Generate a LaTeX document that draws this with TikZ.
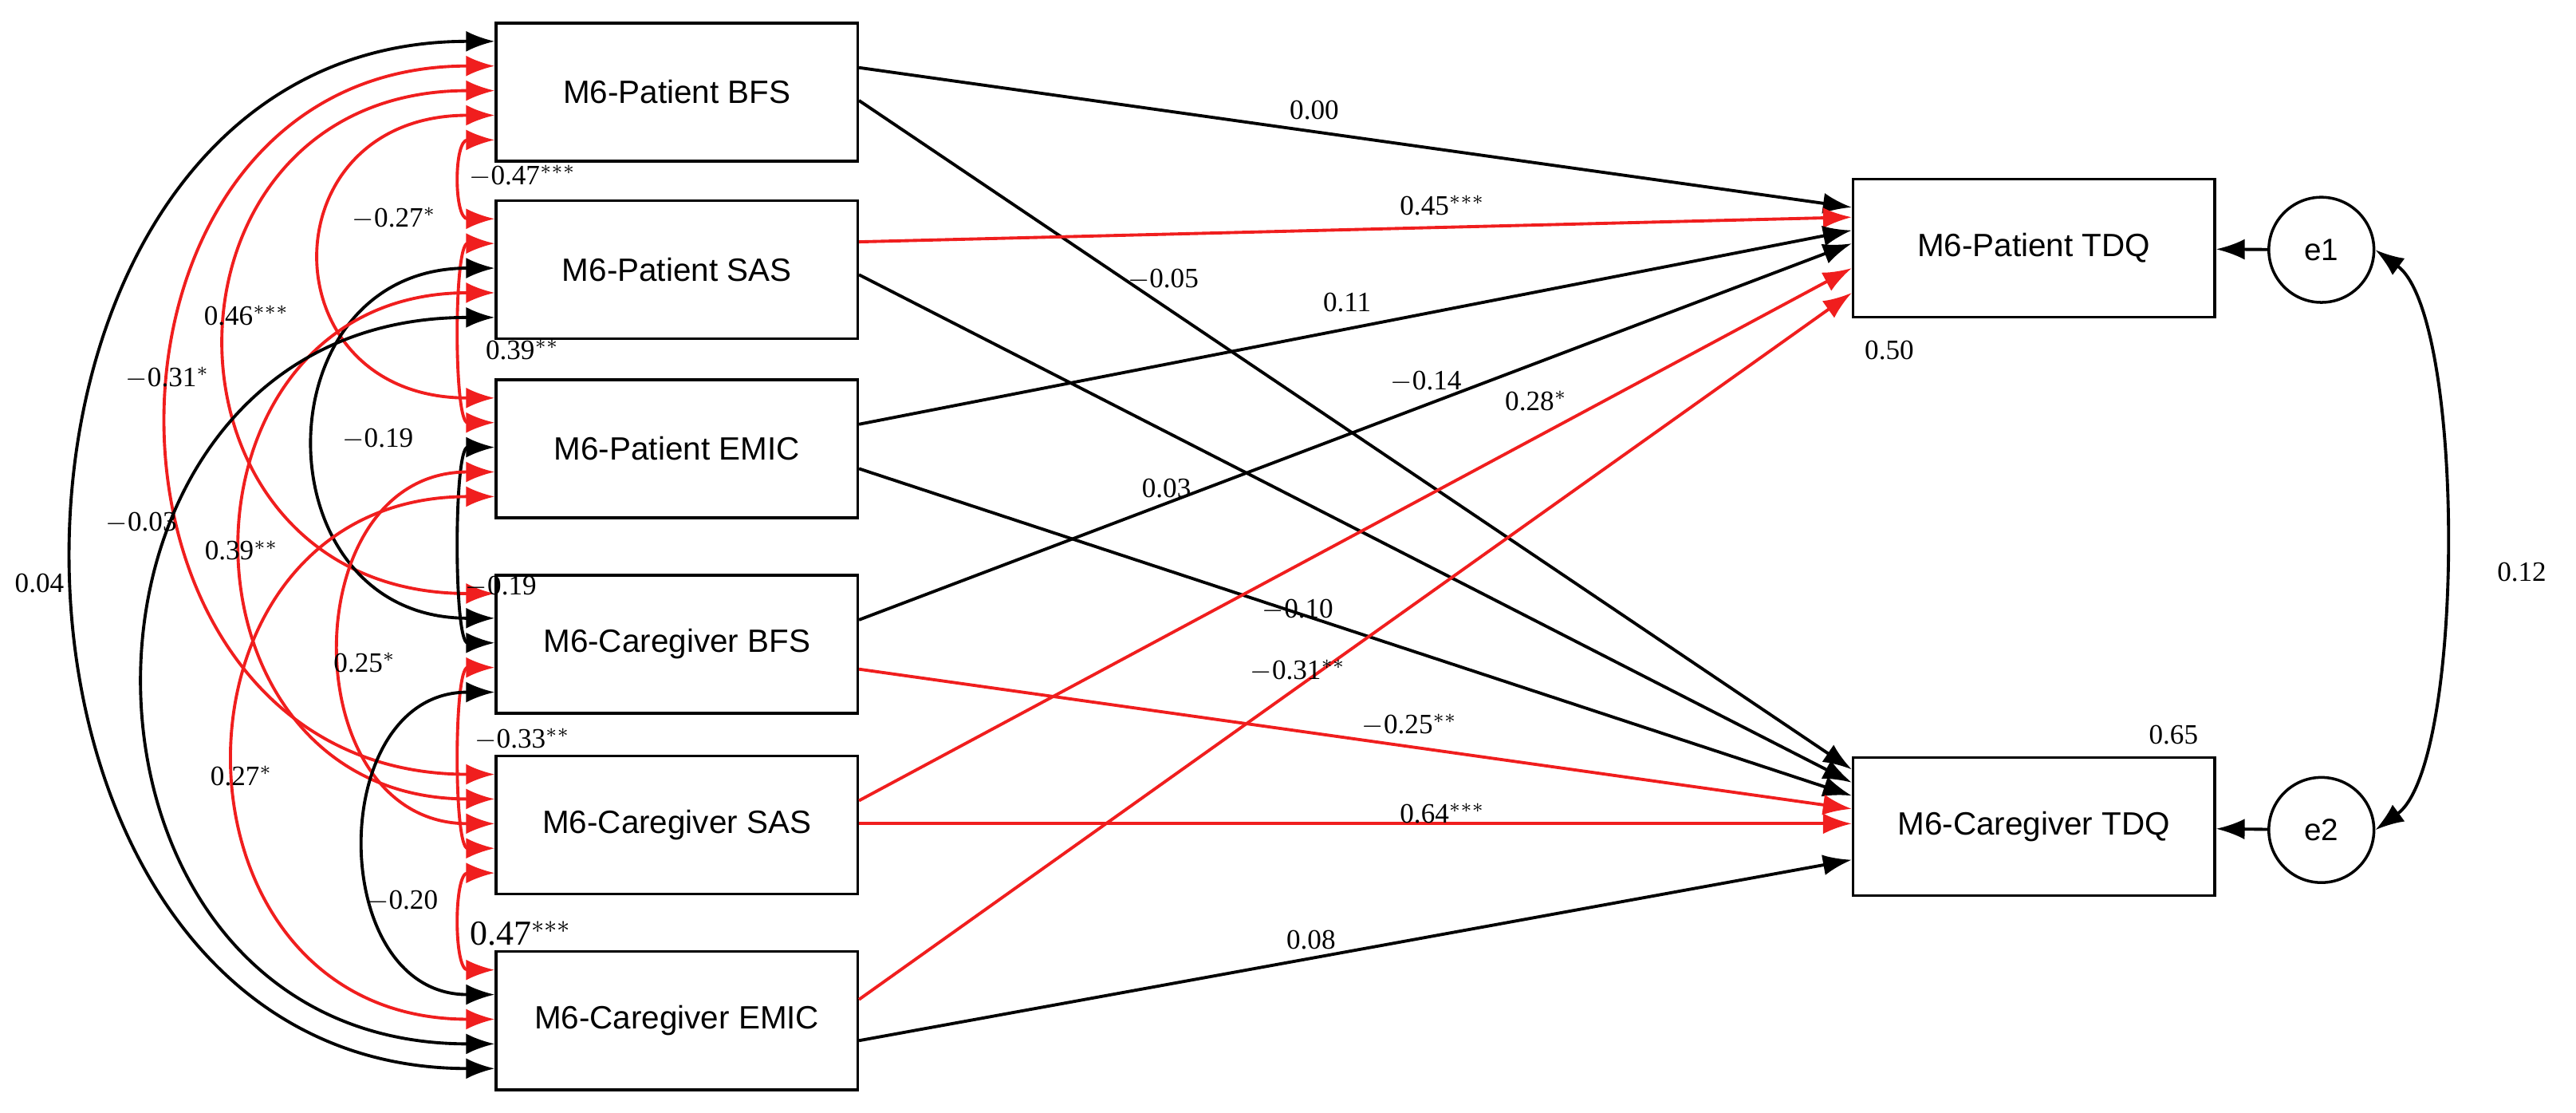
\documentclass[tikz,border=0pt]{standalone}
\usepackage{fontspec}
\setmainfont{Liberation Serif}
\newfontfamily\boxfont{Liberation Sans}
\usetikzlibrary{arrows.meta,calc}
\definecolor{sred}{RGB}{240,30,30}
\begin{document}
\begin{tikzpicture}[x=0.0206cm,y=-0.0206cm,
  box/.style={draw,line width=1pt,minimum width=220*0.0206cm,minimum height=84*0.0206cm,font=\boxfont\fontsize{11.5}{13}\selectfont,inner sep=0pt},
  tip/.style={-{Latex[length=0.36cm,width=0.26cm]}},
  tips/.style={{Latex[length=0.36cm,width=0.26cm]}-{Latex[length=0.36cm,width=0.26cm]}},
  pb/.style={tip,line width=1.1pt,black},
  pr/.style={tip,line width=1.1pt,sred},
  cb/.style={tips,line width=1.1pt,black},
  cr/.style={tips,line width=1.1pt,sred},
  lab/.style={font=\fontsize{10}{12}\selectfont,inner sep=0pt}]
\useasboundingbox (0,0) rectangle (1568,677);
\node[box] (b1) at (412,56) {M6-Patient BFS};
\node[box] (b2) at (412,164) {M6-Patient SAS};
\node[box] (b3) at (412,273) {M6-Patient EMIC};
\node[box] (b4) at (412,392) {M6-Caregiver BFS};
\node[box] (b5) at (412,502) {M6-Caregiver SAS};
\node[box] (b6) at (412,621) {M6-Caregiver EMIC};
\node[box] (t1) at (1238,151) {M6-Patient TDQ};
\node[box] (t2) at (1238,503) {M6-Caregiver TDQ};
\node[draw,circle,line width=1pt,minimum size=64*0.0206cm,inner sep=0pt,font=\boxfont\fontsize{11}{13}\selectfont] (e1) at (1413,152) {e1};
\node[draw,circle,line width=1pt,minimum size=64*0.0206cm,inner sep=0pt,font=\boxfont\fontsize{11}{13}\selectfont] (e2) at (1413,505) {e2};
\newcommand{\covar}[6]{\draw[#1] ($(#2.north west)+(0,#3)$) .. controls +(-#6,0) and +(-#6,0) .. ($(#4.north west)+(0,#5)$);}
% covariances
\covar{cr}{b1}{72}{b2}{12}{25}
\covar{cr}{b1}{57}{b3}{12}{139}
\covar{cr}{b1}{42}{b4}{12}{216}
\covar{cr}{b1}{27}{b5}{12}{263}
\covar{cb}{b1}{12}{b6}{72}{340}
\covar{cr}{b2}{27}{b3}{27}{25}
\covar{cb}{b2}{42}{b4}{27}{144}
\covar{cr}{b2}{57}{b5}{27}{203}
\covar{cb}{b2}{72}{b6}{57}{282}
\covar{cb}{b3}{42}{b4}{42}{25}
\covar{cr}{b3}{57}{b5}{42}{123}
\covar{cr}{b3}{72}{b6}{42}{209}
\covar{cr}{b4}{57}{b5}{57}{25}
\covar{cb}{b4}{72}{b6}{27}{103}
\covar{cr}{b5}{72}{b6}{12}{25}
% cov labels
\node[lab] at (318,107) {$-$0.47$^{***}$};
\node[lab] at (240,133) {$-$0.27$^{*}$};
\node[lab] at (150,192) {0.46$^{***}$};
\node[lab] at (102,230) {$-$0.31$^{*}$};
\node[lab] at (24,355) {0.04};
\node[lab] at (318,213) {0.39$^{**}$};
\node[lab] at (230,267) {$-$0.19};
\node[lab] at (147,335) {0.39$^{**}$};
\node[lab] at (86,318) {$-$0.03};
\node[lab] at (305,357) {$-$0.19};
\node[lab] at (222,403) {0.25$^{*}$};
\node[lab] at (147,472) {0.27$^{*}$};
\node[lab] at (318,450) {$-$0.33$^{**}$};
\node[lab] at (245,548) {$-$0.20};
\node[lab,font=\fontsize{12.5}{14}\selectfont] at (317,568) {0.47$^{***}$};
% paths
\newcommand{\pth}[5]{\draw[#1] ($(#2.north east)+(0,#3)$) -- ($(#4.north west)+(0,#5)$);}
\pth{pb}{b1}{28}{t1}{18}
\pth{pb}{b1}{48}{t2}{8}
\pth{pr}{b2}{26}{t1}{24}
\pth{pb}{b2}{46}{t2}{16}
\pth{pb}{b3}{28}{t1}{32}
\pth{pb}{b3}{55}{t2}{24}
\pth{pb}{b4}{28}{t1}{40}
\pth{pr}{b4}{58}{t2}{32}
\pth{pr}{b5}{28}{t1}{55}
\pth{pr}{b5}{42}{t2}{41}
\pth{pr}{b6}{30}{t1}{70}
\pth{pb}{b6}{55}{t2}{63}
\node[lab] at (800,67) {0.00};
\node[lab] at (878,125) {0.45$^{***}$};
\node[lab] at (708,170) {$-$0.05};
\node[lab] at (820,184) {0.11};
\node[lab] at (868,232) {$-$0.14};
\node[lab] at (935,244) {0.28$^{*}$};
\node[lab] at (710,297) {0.03};
\node[lab] at (790,371) {$-$0.10};
\node[lab] at (790,408) {$-$0.31$^{**}$};
\node[lab] at (858,441) {$-$0.25$^{**}$};
\node[lab] at (878,495) {0.64$^{***}$};
\node[lab] at (798,572) {0.08};
\node[lab] at (1150,213) {0.50};
\node[lab] at (1323,447) {0.65};
\node[lab] at (1535,348) {0.12};
% errors
\draw[pb] (e1) -- (t1);
\draw[pb] (e2) -- (t2);
\draw[cb] (e1.east) .. controls +(55,40) and +(55,-40) .. (e2.east);
\end{tikzpicture}
\end{document}
